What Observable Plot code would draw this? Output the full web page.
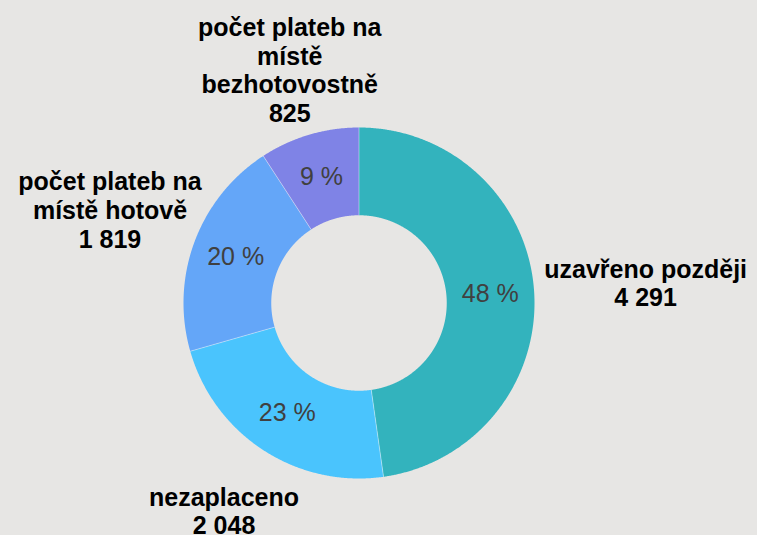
<!DOCTYPE html>
<html><head><meta charset="utf-8">
<script src="https://cdn.jsdelivr.net/npm/d3@7"></script>
<script src="https://cdn.jsdelivr.net/npm/@observablehq/plot@0.6"></script>
<style>
html,body{margin:0;padding:0;background:#e7e6e4;}
#chart svg{display:block;}
</style></head><body><div id="chart"></div>
<script>
// ---- data ----
const categories = ["uzavřeno později", "nezaplaceno", "počet plateb na místě hotově", "počet plateb na místě bezhotovostně"];
const values = [4291, 2048, 1819, 825];
const colors = ["#33b3bd", "#4ac4fd", "#64a6f8", "#7f83e6"];

// ---- layout constants ----
const W = 757, H = 535;
const R = 175.5;            // outer radius in px
const innerFrac = 0.5;      // inner radius as fraction of outer
const fs = 25;              // label font size
const lh = 1.15;            // line height (em)
const pad = 11;             // gap between ring and nearest label text
const font = "'Liberation Sans', Arial, sans-serif";

const fmt = d3.formatLocale({decimal: ",", thousands: "\u00a0", grouping: [3], currency: ["", ""]}).format(",d");
const total = d3.sum(values);
const data = categories.map((c, i) => ({key: c, value: values[i]}));
const arcs = d3.pie().sort(null).value(d => d.value)(data);

// polygon outline points for each slice (unit coordinates, y down)
const pts = [];
for (const a of arcs) {
  const n = Math.max(4, Math.ceil((a.endAngle - a.startAngle) / 0.005));
  for (let k = 0; k <= n; k++) {
    const t = a.startAngle + (a.endAngle - a.startAngle) * k / n;
    pts.push({key: a.data.key, x: Math.sin(t), y: -Math.cos(t)});
  }
  for (let k = n; k >= 0; k--) {
    const t = a.startAngle + (a.endAngle - a.startAngle) * k / n;
    pts.push({key: a.data.key, x: innerFrac * Math.sin(t), y: -innerFrac * Math.cos(t)});
  }
}

// radial separators
const seps = arcs.map(a => ({
  x1: innerFrac * Math.sin(a.startAngle), y1: -innerFrac * Math.cos(a.startAngle),
  x2: Math.sin(a.startAngle), y2: -Math.cos(a.startAngle)
}));

// word wrap
function wrap(s, maxChars) {
  const words = s.split(" "), lines = [];
  let cur = "";
  for (const w of words) {
    if (!cur) cur = w;
    else if ((cur + " " + w).length <= maxChars) cur += " " + w;
    else { lines.push(cur); cur = w; }
  }
  if (cur) lines.push(cur);
  return lines;
}

const ctx = document.createElement("canvas").getContext("2d");
ctx.font = `bold ${fs}px 'Liberation Sans', Arial, sans-serif`;

const labels = arcs.map(a => {
  const mid = (a.startAngle + a.endAngle) / 2;
  const ux = Math.sin(mid), uy = -Math.cos(mid);
  const lines = [...wrap(a.data.key, 16), fmt(a.data.value)];
  const n = lines.length, hh = 0.4 * fs;
  // extent of the text toward the ring (direction -u), line by line
  const reach = d3.max(lines, (l, i) => {
    const hw = ctx.measureText(l).width / 2;
    const oy = (i - (n - 1) / 2) * lh * fs;
    return hw * Math.abs(ux) - uy * oy + hh * Math.abs(uy);
  });
  const dist = R + pad + reach;
  return {
    text: lines.join("\n"),
    x: dist / R * ux, y: dist / R * uy,
    px: (1 + innerFrac) / 2 * ux, py: (1 + innerFrac) / 2 * uy,
    pct: Math.round(a.data.value / total * 100) + " %"
  };
});

const cx = 358.5, cy = 302.5;
const chart = Plot.plot({
  width: W, height: H,
  x: {domain: [-1, 1], range: [cx - R, cx + R], axis: null},
  y: {domain: [-1, 1], range: [cy - R, cy + R], axis: null},
  color: {domain: categories, range: colors},
  style: {background: "#e7e6e4", fontFamily: font},
  marks: [
    Plot.line(pts, {x: "x", y: "y", z: "key", fill: "key", stroke: "none", curve: "linear-closed"}),
    Plot.link(seps, {x1: "x1", y1: "y1", x2: "x2", y2: "y2", stroke: "#ffffff", strokeOpacity: 0.4, strokeWidth: 1}),
    Plot.text(labels, {x: "px", y: "py", text: "pct", fill: "#404040", fontSize: 25, fontFamily: font}),
    Plot.text(labels, {x: "x", y: "y", text: "text", fill: "#000000", fontSize: fs, fontWeight: "bold", lineHeight: lh, fontFamily: font})
  ]
});
document.getElementById("chart").appendChild(chart);
</script>
</body></html>
